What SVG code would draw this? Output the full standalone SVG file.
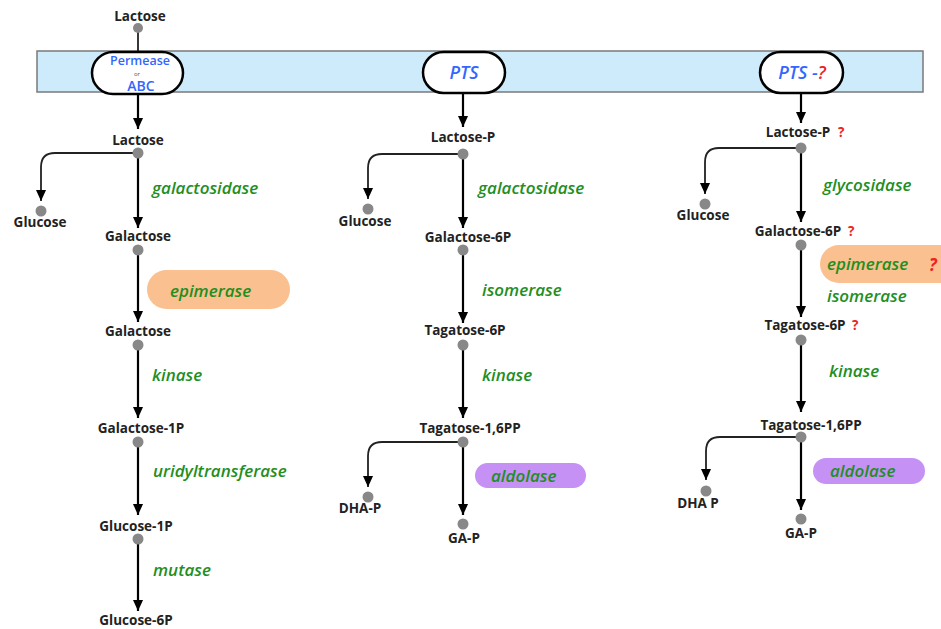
<svg xmlns="http://www.w3.org/2000/svg" width="941" height="629" viewBox="0 0 941 629">
<defs>
<marker id="ah" viewBox="0 0 12 12" refX="12" refY="6" markerWidth="11" markerHeight="11" markerUnits="userSpaceOnUse" orient="auto">
<path d="M0,0.5 L12,6 L0,11.5 z" fill="#000"/>
</marker>
<style>
.node{font-family:"Open Sans","Noto Sans",sans-serif;font-size:13.5px;font-weight:700;fill:#222;text-anchor:middle}
.enz{font-family:"Open Sans","Noto Sans",sans-serif;font-size:17px;font-weight:600;font-style:italic;fill:#1f8f1f}
.q{fill:#ee2222;font-family:"Open Sans","Noto Sans",sans-serif;font-weight:700}
.dot{fill:#888}
.main{stroke:#000;stroke-width:2.2;fill:none;marker-end:url(#ah)}
.br{stroke:#222;stroke-width:1.8;fill:none;marker-end:url(#ah)}
.pill{fill:#fff;stroke:#000;stroke-width:2.5}
.tr{font-family:"Open Sans","Noto Sans",sans-serif;fill:#3366ff;text-anchor:middle}
.orange{fill:#fbc08f}
.purple{fill:#c591f5}
</style>
</defs>
<rect id="membrane" x="37" y="51" width="886" height="41" fill="#cdebfb" stroke="#7a7a7a" stroke-width="1.5"/>
<g id="connectors">
<line x1="138" y1="28" x2="138" y2="53" stroke="#222" stroke-width="1.8"/>
<line class="main" x1="138" y1="94" x2="138" y2="129"/>
<path class="br" d="M133,153 H55 Q41,153 41,167 V201"/>
<line class="main" x1="138" y1="153" x2="138" y2="228"/>
<line class="main" x1="138" y1="250" x2="138" y2="322"/>
<line class="main" x1="138" y1="345" x2="138" y2="418"/>
<line class="main" x1="138" y1="442" x2="138" y2="515"/>
<line class="main" x1="138" y1="539" x2="138" y2="611"/>
<line class="main" x1="463" y1="93" x2="463" y2="127"/>
<path class="br" d="M458,154 H382 Q368,154 368,168 V199"/>
<line class="main" x1="463" y1="154" x2="463" y2="228"/>
<line class="main" x1="463" y1="250" x2="463" y2="323"/>
<line class="main" x1="463" y1="345" x2="463" y2="418"/>
<path class="br" d="M458,442 H382 Q368,442 368,456 V487"/>
<line class="main" x1="463" y1="442" x2="463" y2="515"/>
<line class="main" x1="801" y1="93" x2="801" y2="123"/>
<path class="br" d="M796,148 H719 Q705,148 705,162 V194"/>
<line class="main" x1="801" y1="148" x2="801" y2="222"/>
<line class="main" x1="801" y1="245" x2="801" y2="317"/>
<line class="main" x1="801" y1="340" x2="801" y2="412"/>
<path class="br" d="M796,437 H720 Q706,437 706,451 V480"/>
<line class="main" x1="801" y1="437" x2="801" y2="510"/>
</g>
<g id="col1-lactose-out"><text class="node" x="140" y="21">Lactose</text><circle class="dot" cx="138" cy="28" r="5"/></g>
<g id="permease"><rect class="pill" x="92" y="52" width="91" height="42" rx="21"/>
<text class="tr" x="140" y="65" font-size="12.5" font-weight="600">Permease</text>
<text x="137" y="75.5" font-size="6" fill="#555" text-anchor="middle" font-family="Open Sans, sans-serif">or</text>
<text class="tr" x="141" y="91" font-size="14" font-weight="600">ABC</text></g>
<g id="col1-lactose"><text class="node" x="138" y="145">Lactose</text><circle class="dot" cx="138" cy="153" r="5.5"/></g>
<g id="col1-glucose"><circle class="dot" cx="41" cy="211" r="5.5"/><text class="node" x="40" y="227">Glucose</text></g>
<g id="col1-galactose"><text class="node" x="138" y="241">Galactose</text><circle class="dot" cx="138" cy="250" r="5.5"/></g>
<g id="col1-galactose2"><text class="node" x="138" y="336">Galactose</text><circle class="dot" cx="138" cy="345" r="5.5"/></g>
<g id="col1-gal1p"><text class="node" x="141" y="433">Galactose-1P</text><circle class="dot" cx="138" cy="442" r="5.5"/></g>
<g id="col1-glc1p"><text class="node" x="136" y="531">Glucose-1P</text><circle class="dot" cx="138" cy="539" r="5.5"/></g>
<g id="col1-glc6p"><text class="node" x="136" y="625">Glucose-6P</text></g>
<g id="col1-enz">
<text class="enz" x="152" y="194">galactosidase</text>
<rect class="orange" x="147" y="270" width="143" height="39" rx="19.5"/>
<text class="enz" x="170" y="297">epimerase</text>
<text class="enz" x="152" y="381">kinase</text>
<text class="enz" x="153" y="477">uridyltransferase</text>
<text class="enz" x="153" y="576">mutase</text>
</g>
<g id="pts"><rect class="pill" x="423" y="52" width="82" height="41" rx="20.5"/>
<text class="tr" x="464" y="79" font-size="18" font-style="italic" font-weight="600">PTS</text></g>
<g id="col2-lactosep"><text class="node" x="463" y="142">Lactose-P</text><circle class="dot" cx="463" cy="154" r="5.5"/></g>
<g id="col2-glucose"><circle class="dot" cx="368" cy="209" r="5.5"/><text class="node" x="365" y="226">Glucose</text></g>
<g id="col2-gal6p"><text class="node" x="468" y="242">Galactose-6P</text><circle class="dot" cx="463" cy="250" r="5.5"/></g>
<g id="col2-tag6p"><text class="node" x="465" y="335">Tagatose-6P</text><circle class="dot" cx="463" cy="345" r="5.5"/></g>
<g id="col2-tag16pp"><text class="node" x="470" y="433">Tagatose-1,6PP</text><circle class="dot" cx="463" cy="442" r="5.5"/></g>
<g id="col2-dhap"><circle class="dot" cx="368" cy="497" r="5.5"/><text class="node" x="360" y="513">DHA-P</text></g>
<g id="col2-gap"><circle class="dot" cx="463" cy="524" r="5.5"/><text class="node" x="464" y="543">GA-P</text></g>
<g id="col2-enz">
<text class="enz" x="478" y="194">galactosidase</text>
<text class="enz" x="482" y="296">isomerase</text>
<text class="enz" x="482" y="381">kinase</text>
<rect class="purple" x="475" y="463" width="111" height="25" rx="12.5"/>
<text class="enz" x="491" y="482">aldolase</text>
</g>
<g id="pts-q"><rect class="pill" x="760" y="52" width="83" height="41" rx="20.5"/>
<text class="tr" x="802" y="79" font-size="18" font-style="italic" font-weight="600">PTS -<tspan fill="#ee2222">?</tspan></text></g>
<g id="col3-lactosep"><text class="node" x="798" y="137">Lactose-P</text><text class="q" x="838" y="137" font-size="13.5">?</text><circle class="dot" cx="801" cy="148" r="5.5"/></g>
<g id="col3-glucose"><circle class="dot" cx="705" cy="204" r="5.5"/><text class="node" x="703" y="220">Glucose</text></g>
<g id="col3-gal6p"><text class="node" x="798" y="236">Galactose-6P</text><text class="q" x="848" y="236" font-size="13.5">?</text><circle class="dot" cx="801" cy="245" r="5.5"/></g>
<g id="col3-tag6p"><text class="node" x="805" y="330">Tagatose-6P</text><text class="q" x="852" y="330" font-size="13.5">?</text><circle class="dot" cx="801" cy="340" r="5.5"/></g>
<g id="col3-tag16pp"><text class="node" x="811" y="430">Tagatose-1,6PP</text><circle class="dot" cx="801" cy="437" r="5.5"/></g>
<g id="col3-dhap"><circle class="dot" cx="706" cy="491" r="5.5"/><text class="node" x="698" y="508">DHA P</text></g>
<g id="col3-gap"><circle class="dot" cx="801" cy="519" r="5.5"/><text class="node" x="801" y="538">GA-P</text></g>
<g id="col3-enz">
<text class="enz" x="823" y="191">glycosidase</text>
<rect class="orange" x="820" y="245" width="140" height="38" rx="19"/>
<text class="enz" x="827" y="270">epimerase</text>
<text class="q" x="929" y="271" font-size="17" font-style="italic">?</text>
<text class="enz" x="827" y="302">isomerase</text>
<text class="enz" x="829" y="377">kinase</text>
<rect class="purple" x="813" y="458" width="112" height="26" rx="13"/>
<text class="enz" x="830" y="477">aldolase</text>
</g>
</svg>
